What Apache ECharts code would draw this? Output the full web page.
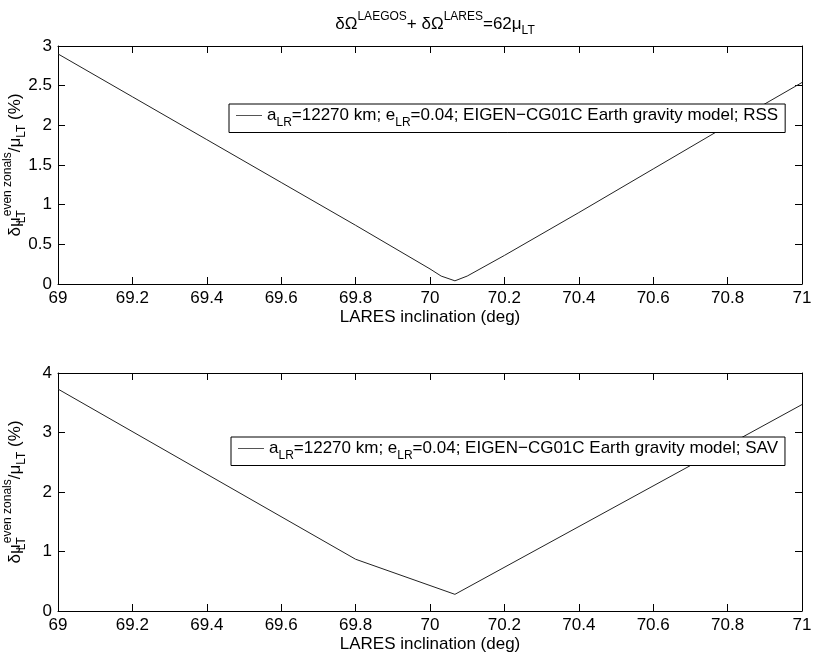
<!DOCTYPE html>
<html>
<head>
<meta charset="utf-8">
<script src="https://cdn.jsdelivr.net/npm/echarts@6/dist/echarts.min.js"></script>
<style>
  html, body { margin: 0; padding: 0; background: #fff; }
  #chart { width: 817px; height: 654px; }
</style>
</head>
<body>
<div id="chart"></div>
<script>
// values
const rssIncl = [69, 69.2, 69.4, 69.6, 69.8, 70.0, 70.03, 70.067, 70.1, 70.2, 70.4, 70.6, 70.8, 71];
const rssErr = [2.9, 2.36, 1.82, 1.28, 0.74, 0.19, 0.1, 0.04, 0.1, 0.36, 0.9, 1.45, 2.0, 2.54];
const savIncl = [69, 69.8, 70.067, 71];
const savErr = [3.73, 0.87, 0.28, 3.47];

const xTicks = { min: 69, max: 71, interval: 0.2 };
const topY = { min: 0, max: 3, interval: 0.5 };
const botY = { min: 0, max: 4, interval: 1 };

const FONT = 'Liberation Sans, Arial, Helvetica, sans-serif';
const FS = 17;
const SS = 12;

const rich = {
    n: { fontSize: FS, fontFamily: FONT, fontWeight: 'normal', color: '#000', lineHeight: 26 },
    sup: { fontSize: SS, fontFamily: FONT, fontWeight: 'normal', color: '#000', lineHeight: 13, verticalAlign: 'top' },
    sub: { fontSize: SS, fontFamily: FONT, fontWeight: 'normal', color: '#000', lineHeight: 13, verticalAlign: 'bottom' },
    // subscript that takes no room, so the superscript after it sits right above it
    lt: { fontSize: SS, fontFamily: FONT, fontWeight: 'normal', color: '#000', lineHeight: 13, verticalAlign: 'bottom', width: 1 },
};

const yName = '{n|δμ}{lt|LT}{sup|even zonals}{n|/μ}{sub|LT}{n| (%)}';

const chart = echarts.init(document.getElementById('chart'));

const xBase = (gridIndex) => ({
    type: 'value',
    gridIndex,
    min: xTicks.min,
    max: xTicks.max,
    interval: xTicks.interval,
    axisLine: { show: true, onZero: false, lineStyle: { color: '#000', width: 1 } },
    axisTick: { show: true, inside: true, length: 7, lineStyle: { color: '#000' } },
    splitLine: { show: false },
});

const yBase = (gridIndex, r) => ({
    type: 'value',
    gridIndex,
    min: r.min,
    max: r.max,
    interval: r.interval,
    axisLine: { show: true, onZero: false, lineStyle: { color: '#000', width: 1 } },
    axisTick: { show: true, inside: true, length: 7, lineStyle: { color: '#000' } },
    splitLine: { show: false },
});

const xLabelled = (gi) => Object.assign(xBase(gi), {
    position: 'bottom',
    axisLabel: { color: '#000', fontSize: FS, fontFamily: FONT, margin: 6, formatter: (v) => +v.toFixed(1) + '' },
    name: 'LARES inclination (deg)',
    nameLocation: 'middle',
    nameGap: 25,
    nameMoveOverlap: false,
    nameTextStyle: { color: '#000', fontSize: FS, fontFamily: FONT },
});
const xTop = (gi) => Object.assign(xBase(gi), { position: 'top', axisLabel: { show: false } });

const yLabelled = (gi, r) => Object.assign(yBase(gi, r), {
    position: 'left',
    axisLabel: { color: '#000', fontSize: FS, fontFamily: FONT, margin: 6 },
    name: yName,
    nameLocation: 'middle',
    nameGap: 30,
    nameMoveOverlap: false,
    nameTextStyle: { rich },
});
const yRight = (gi, r) => Object.assign(yBase(gi, r), { position: 'right', axisLabel: { show: false } });

const legendText = (tail) => `{n|a}{sub|LR}{n|=12270 km; e}{sub|LR}{n|=0.04; EIGEN−CG01C Earth gravity model; ${tail}}`;

const legendBox = (name, left, top, tail) => ({
    data: [name],
    left,
    top,
    orient: 'horizontal',
    backgroundColor: '#fff',
    borderColor: '#000',
    borderWidth: 1,
    borderRadius: 0,
    padding: [3, 7, 4, 7],
    icon: 'rect',
    itemWidth: 26,
    itemHeight: 1,
    itemGap: 4,
    itemStyle: { color: '#555' },
    formatter: () => legendText(tail),
    textStyle: { rich, padding: [0, 0, 0, 0] },
});

const option = {
    backgroundColor: '#fff',
    animation: false,
    title: {
        text: '{n|δΩ}{sup|LAEGOS}{n|+ δΩ}{sup|LARES}{n|=62μ}{sub|LT}',
        left: 430,
        top: 6,
        textAlign: 'center',
        textStyle: { rich },
    },
    grid: [
        { left: 58, top: 46, width: 744, height: 238, containLabel: false, outerBoundsMode: 'none' },
        { left: 58, top: 373, width: 744, height: 238, containLabel: false, outerBoundsMode: 'none' },
    ],
    xAxis: [xLabelled(0), xTop(0), xLabelled(1), xTop(1)],
    yAxis: [yLabelled(0, topY), yRight(0, topY), yLabelled(1, botY), yRight(1, botY)],
    legend: [
        legendBox('rss', 229, 104, 'RSS'),
        legendBox('sav', 231, 437, 'SAV'),
    ],
    series: [
        {
            name: 'rss',
            type: 'line',
            xAxisIndex: 0,
            yAxisIndex: 0,
            data: rssIncl.map((x, i) => [x, rssErr[i]]),
            symbol: 'none',
            lineStyle: { color: '#222', width: 1 },
            itemStyle: { color: '#222' },
        },
        {
            name: 'sav',
            type: 'line',
            xAxisIndex: 2,
            yAxisIndex: 2,
            data: savIncl.map((x, i) => [x, savErr[i]]),
            symbol: 'none',
            lineStyle: { color: '#222', width: 1 },
            itemStyle: { color: '#222' },
        },
    ],
};

chart.setOption(option);
</script>
</body>
</html>
